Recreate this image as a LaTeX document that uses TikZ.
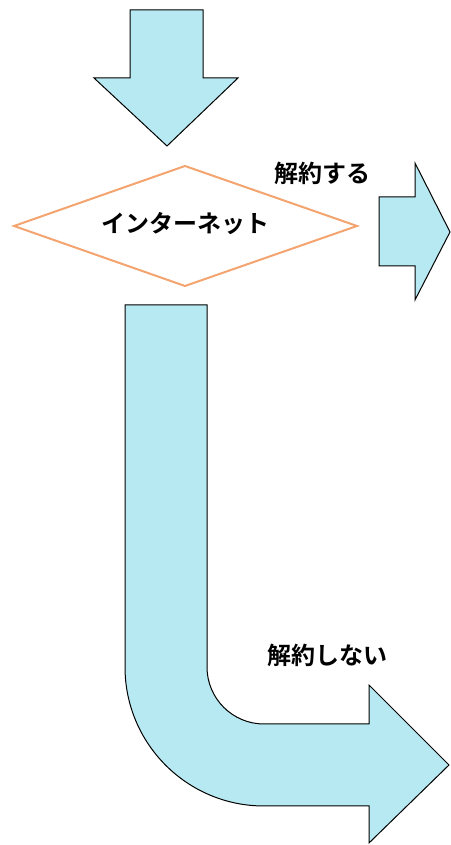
\documentclass[tikz,border=0pt]{standalone}
\usepackage{fontspec}
\newfontfamily\jpfont{Noto Sans CJK JP Bold}
\definecolor{arrowfill}{HTML}{B7E9F2}
\definecolor{diamondline}{HTML}{F4A46F}
\begin{document}
\begin{tikzpicture}[x=1pt,y=1pt,
  bigarrow/.style={draw=black, line width=1pt, fill=arrowfill, line join=miter},
  lbl/.style={font=\jpfont\fontsize{24}{28}\selectfont, inner sep=0pt}]
\useasboundingbox (0,0) rectangle (450,845);
% top arrow
\draw[bigarrow] (130,835) -- (203,835) -- (203,767) -- (238,767) -- (167,699) -- (94,767) -- (130,767) -- cycle;
% diamond
\draw[diamondline, line width=2pt] (14,619) -- (185,679) -- (357,619) -- (185,559) -- cycle;
\node[lbl] (net) at (185,621) {インターネット};
% right arrow
\draw[bigarrow] (379,648) -- (415,648) -- (415,682) -- (450,613) -- (415,545) -- (415,579) -- (379,579) -- cycle;
\node[lbl] (yes) at (322,672) {解約する};
% bent arrow
\draw[bigarrow] (125,540) -- (207,540) -- (207,178) arc[start angle=180, end angle=270, radius=57]
  -- (369,121) -- (369,160) -- (449,80) -- (369,2) -- (369,39) -- (264,39)
  arc[start angle=270, end angle=180, radius=139] -- cycle;
\node[lbl] (no) at (327,190) {解約しない};
\end{tikzpicture}
\end{document}
